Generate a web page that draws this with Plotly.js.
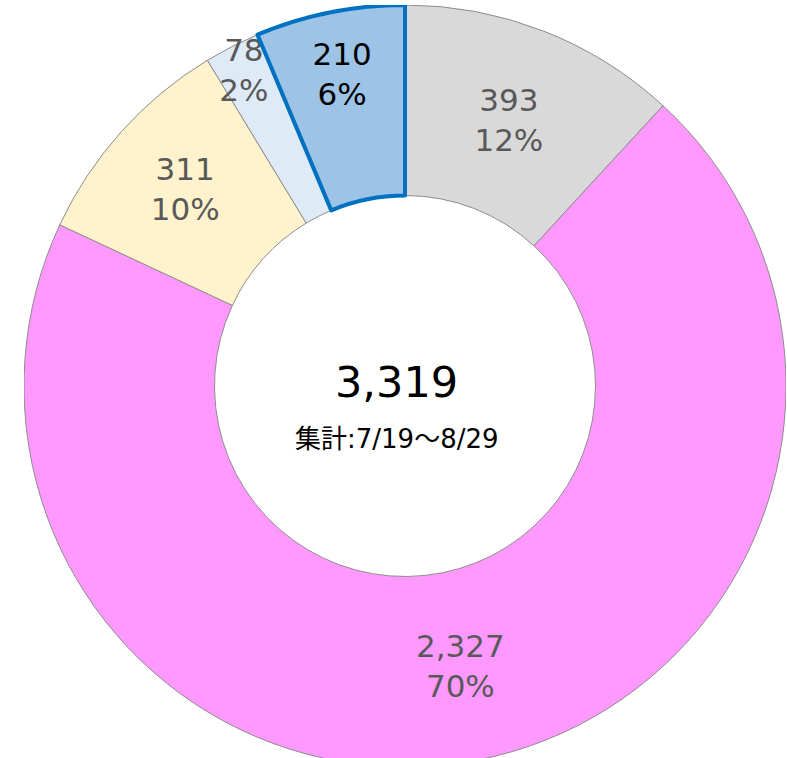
<!DOCTYPE html>
<html>
<head>
<meta charset="utf-8">
<script src="https://cdn.plot.ly/plotly-3.0.1.min.js"></script>
<style>
html, body { margin: 0; padding: 0; background: #fff; overflow: hidden; width: 787px; height: 758px; }
#chart { position: absolute; left: 24px; top: 5px; width: 762px; height: 762px; }
</style>
</head>
<body>
<div id="chart"></div>
<script>
const categories = ["A", "B", "C", "D", "E"];
const values = [393, 2327, 311, 78, 210];
const percentLabels = ["12%", "70%", "10%", "2%", "6%"];
const sliceColors = ["#D9D9D9", "#FF99FF", "#FFF2CC", "#DEEBF7", "#9DC3E6"];
const lineColors = ["#8C8C8C", "#8C8C8C", "#8C8C8C", "#8C8C8C", "#0070C0"];
const lineWidths = [1, 1, 1, 1, 4];
const textColors = ["#595959", "#595959", "#595959", "#595959", "#000000"];
const totalLabel = "3,319";
const periodLabel = "集計:7/19～8/29";

const font = "DejaVu Sans, 'Noto Sans CJK JP', sans-serif";

const trace = {
  type: "pie",
  labels: categories,
  values: values,
  customdata: percentLabels,
  hole: 0.5,
  sort: false,
  direction: "clockwise",
  rotation: 0,
  marker: { colors: sliceColors, line: { color: lineColors, width: lineWidths } },
  texttemplate: "%{value:,}<br>%{customdata}",
  textinfo: "text",
  textposition: "inside",
  insidetextorientation: "horizontal",
  textfont: { family: font, size: 31, color: textColors },
  hoverinfo: "none",
  showlegend: false,
  domain: { x: [0, 1], y: [0, 1] }
};

const layout = {
  width: 762,
  height: 762,
  margin: { l: 0, r: 0, t: 0, b: 0 },
  paper_bgcolor: "#ffffff",
  showlegend: false,
  uniformtext: { mode: "show", minsize: 31 },
  annotations: [
    { text: totalLabel, x: 0.489, y: 0.505, xref: "paper", yref: "paper", showarrow: false,
      font: { family: font, size: 43, color: "#000000" } },
    { text: periodLabel, x: 0.489, y: 0.43, xref: "paper", yref: "paper", showarrow: false,
      font: { family: font, size: 26, color: "#000000" } }
  ]
};

Plotly.newPlot("chart", [trace], layout, { displayModeBar: false, staticPlot: true });
</script>
</body>
</html>
